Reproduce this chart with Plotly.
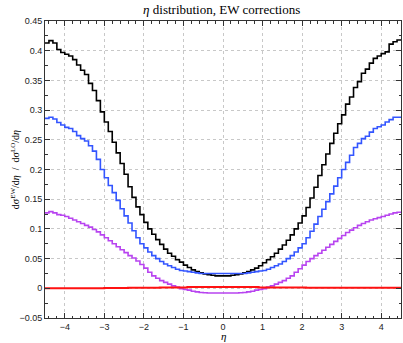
import numpy as np
import plotly.graph_objects as go

# bins of 0.1 in eta, from -4.5 to 4.5
eta_min, eta_max, n_bins = -4.5, 4.5, 90

black = [
    0.413, 0.417, 0.413, 0.402, 0.397, 0.394, 0.391, 0.385, 0.376, 0.367,
    0.360, 0.345, 0.333, 0.316, 0.297, 0.280, 0.264, 0.246, 0.228, 0.210,
    0.192, 0.171, 0.153, 0.137, 0.124, 0.111, 0.100, 0.091, 0.082, 0.074,
    0.066, 0.059, 0.054, 0.048, 0.044, 0.039, 0.035, 0.031, 0.028, 0.026,
    0.024, 0.023, 0.022, 0.021, 0.021,
    0.021, 0.021, 0.022, 0.023, 0.024, 0.026, 0.028, 0.031, 0.034, 0.038,
    0.043, 0.048, 0.053, 0.059, 0.066, 0.073, 0.081, 0.090, 0.100, 0.110,
    0.122, 0.136, 0.152, 0.170, 0.190, 0.208, 0.226, 0.244, 0.261, 0.277,
    0.292, 0.310, 0.322, 0.338, 0.348, 0.362, 0.369, 0.379, 0.387, 0.391,
    0.395, 0.398, 0.411, 0.415, 0.418,
]

blue = [
    0.286, 0.288, 0.285, 0.279, 0.275, 0.271, 0.269, 0.264, 0.257, 0.252,
    0.248, 0.240, 0.231, 0.217, 0.200, 0.186, 0.173, 0.161, 0.148, 0.134,
    0.122, 0.110, 0.097, 0.085, 0.075, 0.068, 0.061, 0.055, 0.050, 0.045,
    0.041, 0.038, 0.035, 0.032, 0.030, 0.029, 0.028, 0.027, 0.026, 0.025,
    0.025, 0.025, 0.025, 0.025, 0.025,
    0.025, 0.025, 0.025, 0.025, 0.025, 0.025, 0.026, 0.027, 0.028, 0.029,
    0.030, 0.032, 0.035, 0.038, 0.041, 0.045, 0.050, 0.055, 0.061, 0.068,
    0.075, 0.085, 0.096, 0.108, 0.121, 0.133, 0.146, 0.159, 0.172, 0.186,
    0.200, 0.212, 0.224, 0.237, 0.244, 0.252, 0.256, 0.263, 0.269, 0.272,
    0.275, 0.280, 0.284, 0.288, 0.288,
]

purple = [
    0.127, 0.129, 0.127, 0.124, 0.123, 0.121, 0.118, 0.115, 0.112, 0.109,
    0.106, 0.103, 0.099, 0.095, 0.090, 0.085, 0.080, 0.075, 0.070, 0.065,
    0.060, 0.055, 0.051, 0.046, 0.040, 0.034, 0.027, 0.021, 0.017, 0.013,
    0.010, 0.007, 0.004, 0.002, -0.0005, -0.002, -0.003, -0.005, -0.006, -0.007,
    -0.0075, -0.008, -0.008, -0.008, -0.008,
    -0.008, -0.008, -0.008, -0.008, -0.0075, -0.007, -0.006, -0.005, -0.003, -0.002,
    -0.0005, 0.002, 0.004, 0.007, 0.010, 0.013, 0.017, 0.021, 0.027, 0.033,
    0.039, 0.045, 0.050, 0.055, 0.059, 0.064, 0.069, 0.074, 0.079, 0.084,
    0.089, 0.094, 0.098, 0.102, 0.106, 0.109, 0.112, 0.115, 0.117, 0.119,
    0.121, 0.123, 0.125, 0.127, 0.128,
]

red = [
    0.000, 0.000, 0.000, 0.000, 0.000, 0.000, 0.000, 0.000, 0.000, 0.000,
    0.000, 0.000, 0.000, 0.000, 0.000, 0.0005, 0.0005, 0.0005, 0.0005, 0.0005,
    0.0005, 0.001, 0.001, 0.001, 0.001, 0.001, 0.001, 0.001, 0.001, 0.0015,
    0.0015, 0.0015, 0.0015, 0.0015, 0.0015, 0.0015, 0.002, 0.002, 0.002, 0.002,
    0.002, 0.002, 0.002, 0.002, 0.002,
    0.002, 0.002, 0.002, 0.002, 0.002, 0.002, 0.002, 0.002, 0.002, 0.0015,
    0.0015, 0.0015, 0.0015, 0.0015, 0.0015, 0.0015, 0.0015, 0.0015, 0.0015, 0.0015,
    0.0015, 0.001, 0.001, 0.001, 0.001, 0.001, 0.001, 0.001, 0.001, 0.001,
    0.001, 0.001, 0.001, 0.001, 0.001, 0.001, 0.001, 0.001, 0.001, 0.001,
    0.001, 0.001, 0.001, 0.001, 0.001,
]

series = [
    (black, "#000000", 1.6),
    (blue, "#3355ff", 1.6),
    (purple, "#b844f0", 1.6),
    (red, "#ff1111", 2.0),
]

edges = np.linspace(eta_min, eta_max, n_bins + 1)

fig = go.Figure()
for vals, color, width in series:
    fig.add_trace(go.Scatter(
        x=edges,
        y=list(vals) + [vals[-1]],
        mode="lines",
        line=dict(color=color, width=width, shape="hv"),
        showlegend=False,
    ))

tick_font = dict(family="Liberation Sans, Arial, sans-serif", size=9, color="#222")
axis_common = dict(
    showline=True, linecolor="#333", linewidth=1, mirror="allticks",
    ticks="inside", ticklen=5, tickcolor="#333", tickwidth=1,
    showgrid=True, gridcolor="#c8c8c8", griddash="dot", gridwidth=1,
    zeroline=False, tickfont=tick_font,
)

fig.update_xaxes(
    range=[eta_min, eta_max], dtick=1, tick0=0, ticklabelstandoff=0,
    minor=dict(dtick=0.2, ticks="inside", ticklen=2.5, tickcolor="#333", showgrid=False),
    **axis_common,
)
fig.update_yaxes(
    range=[-0.05, 0.45], dtick=0.05, tick0=0,
    minor=dict(dtick=0.025, ticks="inside", ticklen=2.5, tickcolor="#333", showgrid=False),
    **axis_common,
)

serif = "Liberation Serif, DejaVu Serif, serif"
fig.add_annotation(
    text="<i>η</i>", xref="paper", yref="paper", x=0.5, y=-0.062,
    xanchor="center", yanchor="middle", showarrow=False, borderpad=0,
    font=dict(family=serif, size=11, color="#000"),
)
fig.add_annotation(
    text="dσ<sup>EW</sup>/d<i>η</i>  /  dσ<sup>LO</sup>/d<i>η</i>",
    xref="paper", yref="paper", x=-0.085, y=0.5, textangle=-90,
    xanchor="center", yanchor="middle", showarrow=False,
    font=dict(family=serif, size=10, color="#000"),
)

fig.update_layout(
    width=403, height=343,
    margin=dict(l=45, r=2, t=21, b=25),
    paper_bgcolor="white", plot_bgcolor="white",
    title=dict(text="<i>η</i> distribution, EW corrections",
               font=dict(family=serif, size=13, color="#000"),
               x=0.55, xanchor="center", y=0.972, yanchor="middle"),
)

# drop the default 8px page margin so the figure sits at the window's corner
fig.write_html("out.html", config={"displayModeBar": False},
               post_script="document.body.style.margin='0';")
